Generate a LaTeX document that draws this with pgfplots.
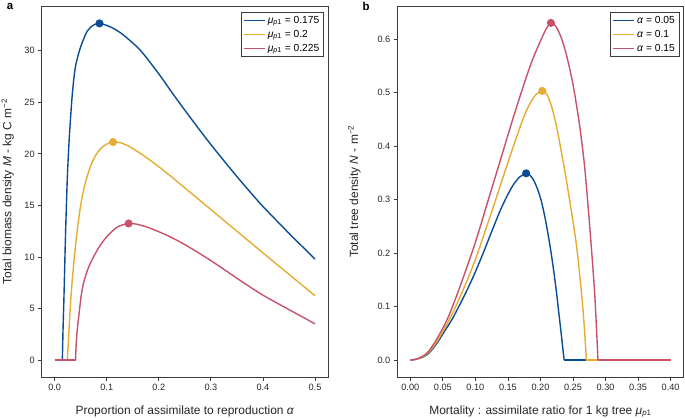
\documentclass[border=0pt]{standalone}
\usepackage{fontspec}
\setmainfont{Liberation Sans}
\usepackage{pgfplots}
\pgfplotsset{compat=1.18}
\definecolor{cblue}{RGB}{10,76,150}
\definecolor{cyellow}{RGB}{230,172,50}
\definecolor{cred}{RGB}{199,82,106}
\definecolor{frame}{RGB}{60,60,60}
\newcommand{\lblfont}{\fontsize{12}{14}\selectfont}
\newcommand{\tckfont}{\fontsize{9.2}{11}\selectfont}
\pgfplotsset{
 myaxis/.style={
  scale only axis, width=286.3bp, height=371bp,
  axis line style={frame, line width=0.9bp},
  tick style={frame, line width=0.8bp},
  tick align=outside, major tick length=3.5bp,
  xtick pos=bottom, ytick pos=left,
  /pgf/number format/assume math mode=true,
  every tick label/.append style={font=\tckfont, text=black!85},
  every axis plot/.append style={line width=1.4bp},
  legend style={font=\fontsize{10.3}{12}\selectfont, draw=frame, line width=0.8bp,
    at={(rel axis cs:0.985,0.985)}, anchor=north east, inner sep=2bp, row sep=1.5bp},
  legend cell align=left,
  legend image code/.code={\draw[#1, line width=1.4bp] (0cm,0cm) -- (0.75cm,0cm);},
  every axis x label/.style={at={(axis description cs:0.5,0)}, anchor=base, yshift=-37bp, font=\lblfont, text=black!85},
 },
 peak/.style={only marks, mark=*, mark size=3.3bp, forget plot},
 curve/.style={smooth, tension=0.45},
}
\begin{document}
\begin{tikzpicture}
\useasboundingbox (0,0) rectangle (685bp,418bp);
\begin{axis}[myaxis, at={(41.7bp,41bp)}, anchor=south west,
  xmin=-0.025, xmax=0.525, ymin=-1.635, ymax=34.335,
  xtick={0,0.1,...,0.5}, ytick={0,5,...,30},
  xticklabel style={/pgf/number format/.cd, fixed, precision=1, fixed zerofill},
  every axis y label/.style={at={(axis description cs:0,0.5)}, xshift=-34bp, rotate=90, anchor=center, font=\lblfont, text=black!85},
  xlabel={Proportion of assimilate to reproduction \textit{α}},
  ylabel={Total biomass density \textit{M} - kg C m\textsuperscript{−2}}]
% blue, mu = 0.175
\addplot[cblue, curve] coordinates {(0.0147,0) (0.016,3.0) (0.0178,6.2) (0.021,12.6) (0.0245,18.0) (0.0285,22.0) (0.034,25.9) (0.040,28.5) (0.050,30.4) (0.0625,31.9) (0.075,32.5) (0.086,32.65) (0.100,32.45) (0.115,32.1) (0.1325,31.5) (0.1644,30.05) (0.2,27.75) (0.228,25.75) (0.26,23.55) (0.3,20.9) (0.35,17.8) (0.3875,15.6) (0.4,14.9) (0.45,12.3) (0.5,9.8)};
\addlegendentry{\textit{μ}\textsubscript{\textit{p}1} = 0.175}
\addplot[cblue, forget plot] coordinates {(0,0) (0.0147,0)};
% yellow, mu = 0.2
\addplot[cyellow, curve] coordinates {(0.0242,0) (0.0274,2.9) (0.0305,5.6) (0.0338,7.8) (0.0385,10.4) (0.0434,12.6) (0.048,14.4) (0.053,15.9) (0.060,17.4) (0.0688,18.8) (0.078,19.8) (0.088,20.5) (0.100,20.95) (0.112,21.14) (0.125,21.1) (0.14,20.8) (0.16,20.2) (0.18,19.5) (0.2,18.75) (0.225,17.75) (0.25,16.7) (0.3,14.6) (0.35,12.5) (0.4,10.4) (0.45,8.32) (0.5,6.24)};
\addlegendentry{\textit{μ}\textsubscript{\textit{p}1} = 0.2}
\addplot[cyellow, forget plot] coordinates {(0,0) (0.0242,0)};
% red, mu = 0.225
\addplot[cred, curve] coordinates {(0.040,0) (0.0415,1.8) (0.044,3.3) (0.0465,4.4) (0.051,6.3) (0.056,7.6) (0.065,9.0) (0.075,10.05) (0.087,11.1) (0.1007,12.0) (0.12,12.9) (0.142,13.25) (0.16,13.15) (0.18,12.85) (0.2,12.45) (0.22,12.0) (0.25,11.2) (0.3,9.65) (0.36,7.6) (0.4,6.3) (0.45,4.9) (0.5,3.52)};
\addlegendentry{\textit{μ}\textsubscript{\textit{p}1} = 0.225}
\addplot[cred, forget plot] coordinates {(0,0) (0.040,0)};
\addplot[peak, cblue] coordinates {(0.086,32.65)};
\addplot[peak, cyellow] coordinates {(0.112,21.14)};
\addplot[peak, cred] coordinates {(0.142,13.25)};
\end{axis}
\begin{axis}[myaxis, at={(397.3bp,41bp)}, anchor=south west,
  xmin=-0.02, xmax=0.42, ymin=-0.0315, ymax=0.6615,
  xtick={0,0.05,...,0.4}, ytick={0,0.1,...,0.6},
  xticklabel style={/pgf/number format/.cd, fixed, precision=2, fixed zerofill},
  yticklabel style={/pgf/number format/.cd, fixed, precision=1, fixed zerofill},
  every axis y label/.style={at={(axis description cs:0,0.5)}, xshift=-43bp, rotate=90, anchor=center, font=\lblfont, text=black!85},
  xlabel={Mortality : assimilate ratio for 1 kg tree \textit{μ}\textsubscript{\textit{p}1}},
  ylabel={Total tree density \textit{N} - m\textsuperscript{−2}}]
% blue, alpha = 0.05
\addplot[cblue, curve] coordinates {(0,0) (0.01,0.002) (0.02,0.006) (0.0285,0.013) (0.04,0.03) (0.054,0.0566) (0.065,0.078) (0.0795,0.112) (0.09,0.138) (0.1,0.165) (0.112,0.2) (0.125,0.24) (0.138,0.279) (0.148,0.305) (0.158,0.327) (0.168,0.342) (0.178,0.349) (0.185,0.344) (0.19,0.335) (0.196,0.318) (0.2018,0.295) (0.208,0.26) (0.2145,0.215) (0.22,0.17) (0.2248,0.125) (0.229,0.08) (0.2324,0.044) (0.2364,0)};
\addlegendentry{\textit{α} = 0.05}
\addplot[cblue, forget plot] coordinates {(0.2364,0) (0.4,0)};
% yellow, alpha = 0.1
\addplot[cyellow, curve] coordinates {(0,0) (0.01,0.002) (0.02,0.007) (0.0285,0.015) (0.04,0.033) (0.054,0.062) (0.065,0.088) (0.08,0.128) (0.1,0.188) (0.125,0.277) (0.138,0.325) (0.15,0.369) (0.16,0.405) (0.171,0.443) (0.18,0.47) (0.1916,0.494) (0.2028,0.503) (0.21,0.496) (0.215,0.482) (0.2196,0.463) (0.225,0.435) (0.23,0.403) (0.24,0.335) (0.2553,0.215) (0.2654,0.094) (0.2706,0)};
\addlegendentry{\textit{α} = 0.1}
\addplot[cyellow, forget plot] coordinates {(0.2706,0) (0.4,0)};
% red, alpha = 0.15
\addplot[cred, curve] coordinates {(0,0) (0.01,0.002) (0.02,0.008) (0.0285,0.017) (0.04,0.038) (0.054,0.069) (0.0642,0.098) (0.0795,0.148) (0.1,0.22) (0.12,0.30) (0.14,0.38) (0.16,0.46) (0.18,0.535) (0.19,0.568) (0.2,0.596) (0.208,0.617) (0.216,0.630) (0.224,0.623) (0.232,0.602) (0.24,0.57) (0.25,0.515) (0.26,0.44) (0.268,0.36) (0.2757,0.25) (0.2833,0.125) (0.2884,0)};
\addlegendentry{\textit{α} = 0.15}
\addplot[cred, forget plot] coordinates {(0.2884,0) (0.4,0)};
\addplot[peak, cblue] coordinates {(0.178,0.349)};
\addplot[peak, cyellow] coordinates {(0.2028,0.503)};
\addplot[peak, cred] coordinates {(0.216,0.630)};
\end{axis}
\node[font=\bfseries\fontsize{11.5}{13}\selectfont, anchor=center] at (10bp,412bp) {a};
\node[font=\bfseries\fontsize{11.5}{13}\selectfont, anchor=center] at (366bp,412bp) {b};
\end{tikzpicture}
\end{document}
